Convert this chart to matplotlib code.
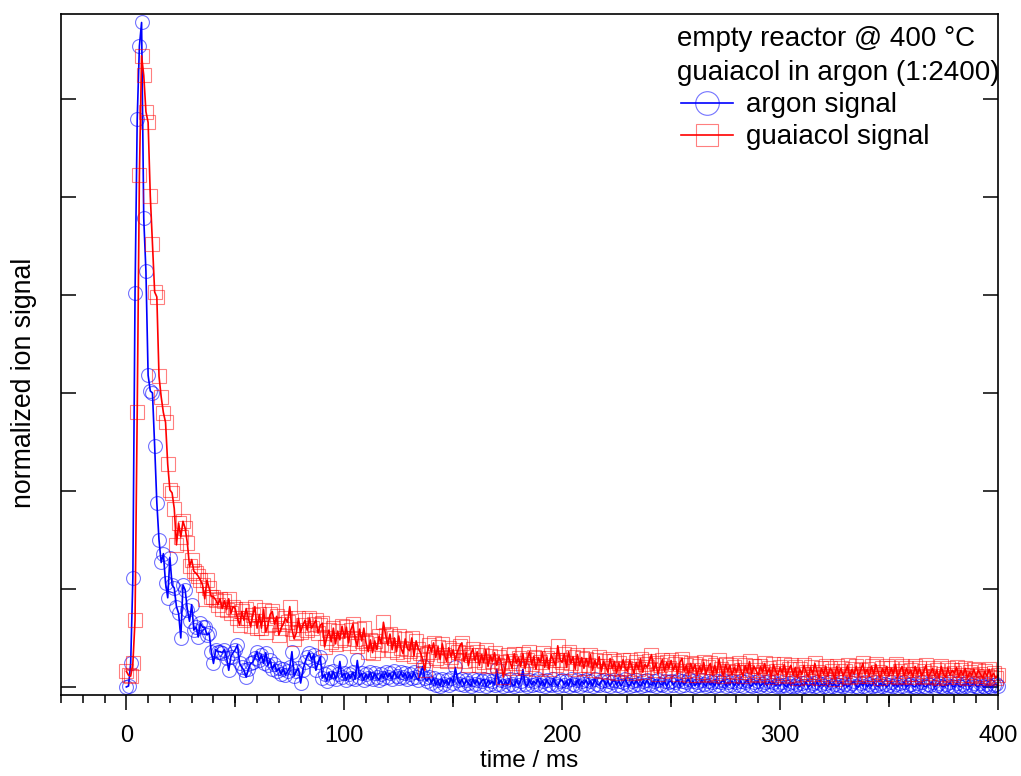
import numpy as np
import matplotlib
matplotlib.use('Agg')
import matplotlib.pyplot as plt

plt.rcParams['font.family'] = ['Liberation Sans', 'DejaVu Sans']

# --- data (1 ms sampling, arbitrary normalized units) ---

argon_signal = [
    0.00, 0.01, 0.24, 1.11, 4.02, 5.80, 6.54, 6.78, 4.78, 4.24,
    3.18, 3.02, 3.00, 2.46, 1.88, 1.50, 1.27, 1.36, 1.06, 0.91,
    1.32, 1.04, 1.01, 0.82, 0.75, 0.50, 1.04, 0.99, 0.79, 0.67,
    0.84, 0.58, 0.61, 0.51, 0.65, 0.61, 0.61, 0.53, 0.55, 0.36,
    0.24, 0.38, 0.36, 0.36, 0.35, 0.38, 0.30, 0.17, 0.31, 0.35,
    0.38, 0.43, 0.24, 0.20, 0.17, 0.10, 0.18, 0.24, 0.25, 0.30,
    0.36, 0.27, 0.33, 0.24, 0.35, 0.22, 0.27, 0.18, 0.23, 0.16,
    0.19, 0.13, 0.18, 0.12, 0.16, 0.20, 0.36, 0.11, 0.16, 0.19,
    0.04, 0.17, 0.25, 0.31, 0.35, 0.28, 0.33, 0.17, 0.25, 0.31,
    0.09, 0.13, 0.06, 0.15, 0.09, 0.16, 0.08, 0.13, 0.26, 0.10,
    0.14, 0.07, 0.13, 0.09, 0.15, 0.08, 0.27, 0.10, 0.14, 0.07,
    0.13, 0.09, 0.15, 0.08, 0.14, 0.10, 0.07, 0.13, 0.09, 0.15,
    0.10, 0.14, 0.08, 0.16, 0.11, 0.09, 0.15, 0.10, 0.14, 0.08,
    0.13, 0.09, 0.15, 0.10, 0.07, 0.14, 0.21, 0.09, 0.06, 0.10,
    0.04, 0.09, 0.02, 0.07, 0.01, 0.08, 0.03, 0.07, 0.02, 0.09,
    0.04, 0.20, 0.07, 0.03, 0.08, 0.02, 0.07, 0.04, 0.01, 0.08,
    0.03, 0.07, 0.02, 0.06, 0.08, 0.01, 0.07, 0.03, 0.06, 0.02,
    0.18, 0.03, 0.07, 0.01, 0.06, 0.02, 0.08, 0.03, 0.01, 0.07,
    0.02, 0.06, 0.18, 0.03, 0.01, 0.07, 0.02, 0.06, 0.03, 0.08,
    0.02, 0.06, 0.01, 0.07, 0.03, 0.02, 0.08, 0.03, 0.01, 0.06,
    0.07, 0.02, 0.06, 0.01, 0.08, 0.03, 0.02, 0.07, 0.01, 0.06,
    0.03, 0.07, 0.02, 0.06, 0.01, 0.08, 0.03, 0.02, 0.06, 0.07,
    0.02, 0.06, 0.01, 0.05, 0.07, 0.02, 0.06, 0.01, 0.05, 0.08,
    0.03, 0.01, 0.06, 0.02, 0.07, 0.03, 0.01, 0.06, 0.02, 0.07,
    0.03, 0.02, 0.06, 0.01, 0.07, 0.03, 0.02, 0.06, 0.01, 0.05,
    0.06, 0.02, 0.05, 0.07, 0.01, 0.06, 0.02, 0.05, 0.08, 0.02,
    0.06, 0.01, 0.05, 0.02, 0.07, 0.03, 0.01, 0.06, 0.02, 0.05,
    0.01, 0.06, 0.02, 0.05, 0.07, 0.01, 0.05, 0.02, 0.06, 0.01,
    0.05, 0.02, 0.06, 0.01, 0.05, 0.07, 0.02, 0.01, 0.05, 0.02,
    0.06, 0.01, 0.03, 0.05, 0.01, 0.06, 0.02, 0.05, 0.01, 0.03,
    0.01, 0.05, 0.02, 0.00, 0.04, 0.01, 0.05, 0.01, 0.03, 0.00,
    0.04, 0.01, 0.05, 0.00, 0.02, 0.04, 0.01, 0.05, 0.00, 0.03,
    0.01, 0.04, 0.00, 0.05, 0.01, 0.03, 0.00, 0.02, 0.05, 0.01,
    0.03, 0.00, 0.02, 0.04, 0.06, 0.01, 0.00, 0.04, 0.01, 0.05,
    0.00, 0.03, 0.01, 0.05, 0.02, 0.00, 0.04, 0.01, 0.03, 0.00,
    0.02, 0.05, 0.01, 0.03, 0.00, 0.04, 0.01, 0.05, 0.00, 0.02,
    0.03, 0.01, 0.00, 0.04, 0.01, 0.05, 0.01, 0.00, 0.03, 0.02,
    0.05, 0.00, 0.02, 0.04, 0.01, 0.00, 0.03, 0.01, 0.05, 0.01,
    0.00, 0.04, 0.01, 0.00, 0.03, 0.01, 0.05, 0.00, 0.02, 0.04,
    0.01, 0.00, 0.04, 0.01, 0.00, 0.03, 0.01, 0.00, 0.02, 0.03,
    0.01,
]

guaiacol_signal = [
    0.16, 0.12, 0.11, 0.24, 0.68, 2.81, 5.22, 6.44, 6.24, 5.87,
    5.76, 5.01, 4.52, 4.03, 3.98, 3.17, 2.96, 2.80, 2.70, 2.27,
    2.01, 1.98, 1.82, 1.45, 1.67, 1.53, 1.69, 1.62, 1.47, 1.23,
    1.30, 1.18, 1.16, 1.13, 1.09, 1.04, 0.90, 1.09, 1.01, 0.92,
    0.92, 0.89, 0.84, 0.90, 0.80, 0.88, 0.79, 0.90, 0.75, 0.82,
    0.80, 0.70, 0.63, 0.77, 0.68, 0.80, 0.70, 0.62, 0.73, 0.82,
    0.60, 0.74, 0.60, 0.79, 0.56, 0.63, 0.74, 0.77, 0.64, 0.72,
    0.53, 0.60, 0.64, 0.70, 0.66, 0.82, 0.59, 0.49, 0.55, 0.70,
    0.56, 0.63, 0.68, 0.58, 0.70, 0.60, 0.64, 0.68, 0.55, 0.63,
    0.65, 0.41, 0.50, 0.58, 0.46, 0.60, 0.44, 0.57, 0.48, 0.62,
    0.50, 0.61, 0.45, 0.58, 0.64, 0.49, 0.42, 0.59, 0.47, 0.60,
    0.45, 0.36, 0.48, 0.35, 0.47, 0.38, 0.52, 0.44, 0.66, 0.53,
    0.43, 0.54, 0.38, 0.50, 0.36, 0.52, 0.40, 0.34, 0.49, 0.39,
    0.37, 0.50, 0.32, 0.47, 0.39, 0.35, 0.28, 0.17, 0.34, 0.43,
    0.36, 0.45, 0.30, 0.41, 0.28, 0.44, 0.33, 0.26, 0.40, 0.31,
    0.38, 0.27, 0.36, 0.42, 0.45, 0.26, 0.35, 0.22, 0.33, 0.39,
    0.27, 0.36, 0.22, 0.33, 0.25, 0.38, 0.21, 0.32, 0.26, 0.35,
    0.22, 0.31, 0.25, 0.10, 0.21, 0.33, 0.26, 0.19, 0.34, 0.24,
    0.30, 0.21, 0.34, 0.19, 0.28, 0.36, 0.23, 0.31, 0.18, 0.30,
    0.25, 0.35, 0.20, 0.30, 0.18, 0.33, 0.27, 0.22, 0.42, 0.28,
    0.25, 0.34, 0.20, 0.36, 0.24, 0.31, 0.18, 0.33, 0.22, 0.30,
    0.19, 0.29, 0.22, 0.33, 0.17, 0.27, 0.21, 0.31, 0.16, 0.26,
    0.21, 0.15, 0.29, 0.19, 0.26, 0.14, 0.24, 0.18, 0.28, 0.19,
    0.16, 0.27, 0.21, 0.14, 0.25, 0.18, 0.29, 0.15, 0.23, 0.20,
    0.26, 0.33, 0.17, 0.24, 0.13, 0.22, 0.28, 0.16, 0.25, 0.19,
    0.27, 0.17, 0.23, 0.13, 0.25, 0.29, 0.16, 0.22, 0.12, 0.24,
    0.17, 0.23, 0.12, 0.21, 0.15, 0.25, 0.13, 0.20, 0.24, 0.12,
    0.22, 0.14, 0.28, 0.18, 0.11, 0.23, 0.16, 0.22, 0.12, 0.20,
    0.15, 0.24, 0.17, 0.11, 0.22, 0.15, 0.26, 0.13, 0.21, 0.17,
    0.12, 0.21, 0.15, 0.24, 0.13, 0.19, 0.10, 0.23, 0.16, 0.12,
    0.20, 0.14, 0.23, 0.11, 0.18, 0.22, 0.12, 0.20, 0.09, 0.18,
    0.13, 0.22, 0.15, 0.10, 0.20, 0.13, 0.24, 0.15, 0.09, 0.19,
    0.13, 0.21, 0.11, 0.19, 0.16, 0.08, 0.21, 0.13, 0.19, 0.11,
    0.16, 0.22, 0.10, 0.18, 0.13, 0.21, 0.11, 0.17, 0.24, 0.13,
    0.18, 0.11, 0.21, 0.13, 0.23, 0.15, 0.09, 0.19, 0.13, 0.21,
    0.11, 0.19, 0.13, 0.23, 0.10, 0.16, 0.21, 0.11, 0.19, 0.13,
    0.17, 0.10, 0.21, 0.13, 0.19, 0.11, 0.16, 0.22, 0.10, 0.14,
    0.19, 0.11, 0.17, 0.09, 0.21, 0.13, 0.10, 0.19, 0.12, 0.17,
    0.14, 0.20, 0.10, 0.17, 0.12, 0.19, 0.09, 0.15, 0.12, 0.18,
    0.11, 0.17, 0.13, 0.09, 0.16, 0.11, 0.18, 0.10, 0.14, 0.09,
    0.12,
]

# regular 1 ms sampling grid
time_ms = np.arange(len(argon_signal)) * 1.0

header_lines = ['empty reactor @ 400 \u00b0C', 'guaiacol in argon (1:2400)']
series_labels = ['argon signal', 'guaiacol signal']

# --- figure ---
fig = plt.figure(figsize=(10.21, 7.76), dpi=100)
ax = fig.add_axes([0.0597, 0.1044, 0.9177, 0.8776])

ax.plot(time_ms, argon_signal, color='#0000ff', lw=1.2, marker='o', ms=10,
        mfc='none', mec=(0, 0, 1, 0.55), mew=0.8, clip_on=False,
        label=series_labels[0])
ax.plot(time_ms, guaiacol_signal, color='#ff0000', lw=1.2, marker='s', ms=9.5,
        mfc='none', mec=(1, 0, 0, 0.5), mew=0.8, clip_on=False,
        label=series_labels[1])

ax.set_xlim(-30, 400)
ax.set_ylim(-0.082, 6.867)

ax.set_xticks([0, 100, 200, 300, 400])
ax.set_xticks(np.arange(-30, 401, 10), minor=True)
ax.set_yticks(np.arange(0, 7, 1))
ax.tick_params(axis='x', which='major', direction='out', length=10.8, width=1.1,
               labelsize=17, pad=11, top=False)
ax.tick_params(axis='x', which='minor', direction='out', length=5.8, width=1.1,
               top=False)
ax.tick_params(axis='y', which='both', direction='in', length=10.8, width=1.1,
               left=True, right=True, labelleft=False)

# medium-length ticks at the half hundreds
sec = ax.secondary_xaxis('bottom')
sec.set_xticks([50, 150, 250, 350])
sec.tick_params(direction='out', length=8.6, width=1.1, labelbottom=False)
sec.xaxis.set_minor_locator(matplotlib.ticker.NullLocator())
sec.spines['bottom'].set_visible(False)

for sp in ax.spines.values():
    sp.set_linewidth(1.2)

ax.set_xlabel('time / ms', fontsize=17.5)
ax.xaxis.set_label_coords(0.5, -0.081)
ax.set_ylabel('normalized ion signal', fontsize=19.2)
ax.yaxis.set_label_coords(-0.0255, 0.458)

# header lines above the legend entries
ax.text(0.657, 0.953, header_lines[0], transform=ax.transAxes, fontsize=20,
        va='baseline', ha='left')
ax.text(0.657, 0.903, header_lines[1], transform=ax.transAxes, fontsize=20,
        va='baseline', ha='left')

ax.legend(loc='upper left', bbox_to_anchor=(0.6617, 0.885), frameon=False,
          fontsize=20, borderpad=0, borderaxespad=0, handlelength=1.87,
          handletextpad=0.47, labelspacing=0.22, markerscale=1.7)

fig.savefig('out.png', dpi=100)
